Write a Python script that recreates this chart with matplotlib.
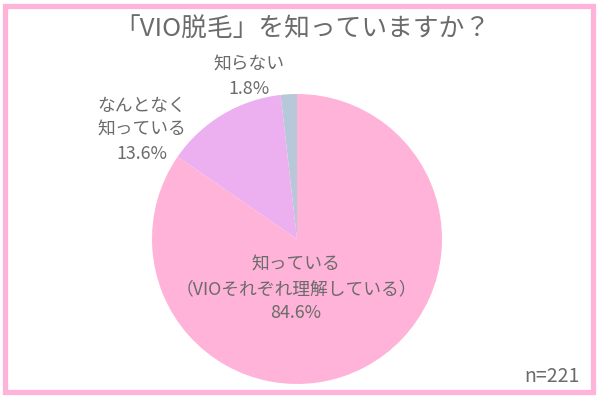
import matplotlib
matplotlib.use("Agg")
import matplotlib.pyplot as plt
from matplotlib.patches import Rectangle

plt.rcParams['font.family'] = ['Noto Sans CJK JP', 'DejaVu Sans']

# === Data ===
title = "「VIO脱毛」を知っていますか？"
labels = ["知らない", "なんとなく\n知っている", "知っている\n（VIOそれぞれ理解している）"]
values = [1.8, 13.6, 84.6]
colors = ["#b7c8d8", "#ecaff0", "#ffb3d8"]
n_total = 221

W, H = 600, 403
text_color = "#6b6b6b"

fig = plt.figure(figsize=(W / 100, H / 100), dpi=100)
ax = fig.add_axes([0, 0, 1, 1])
ax.set_xlim(0, W)
ax.set_ylim(0, H)
ax.set_aspect("equal")
ax.axis("off")

# pie (center and radius in pixel units)
cx, cy, r = 297, H - 239, 145
ax.pie(values, colors=colors, startangle=90, counterclock=True,
       center=(cx, cy), radius=r, wedgeprops=dict(linewidth=0))
ax.set_xlim(0, W)
ax.set_ylim(0, H)

# labels
label_pos = [(249, H - 77), (142, H - 130), (296, H - 289)]
for lab, val, (x, y) in zip(labels, values, label_pos):
    ax.text(x, y, f"{lab}\n{val}%", ha="center", va="center",
            fontsize=12.8, color=text_color, linespacing=1.45)

ax.text(302, H - 30, title, ha="center", va="center", fontsize=18.5, color=text_color)
ax.text(580, H - 377, f"n={n_total}", ha="right", va="center", fontsize=14, color=text_color)

# pink frame
ax.add_patch(Rectangle((4.5, H - 391.5), 588, 386, fill=False,
                       edgecolor="#ffb3d8", linewidth=3.8))

fig.savefig("out.png", dpi=100)
